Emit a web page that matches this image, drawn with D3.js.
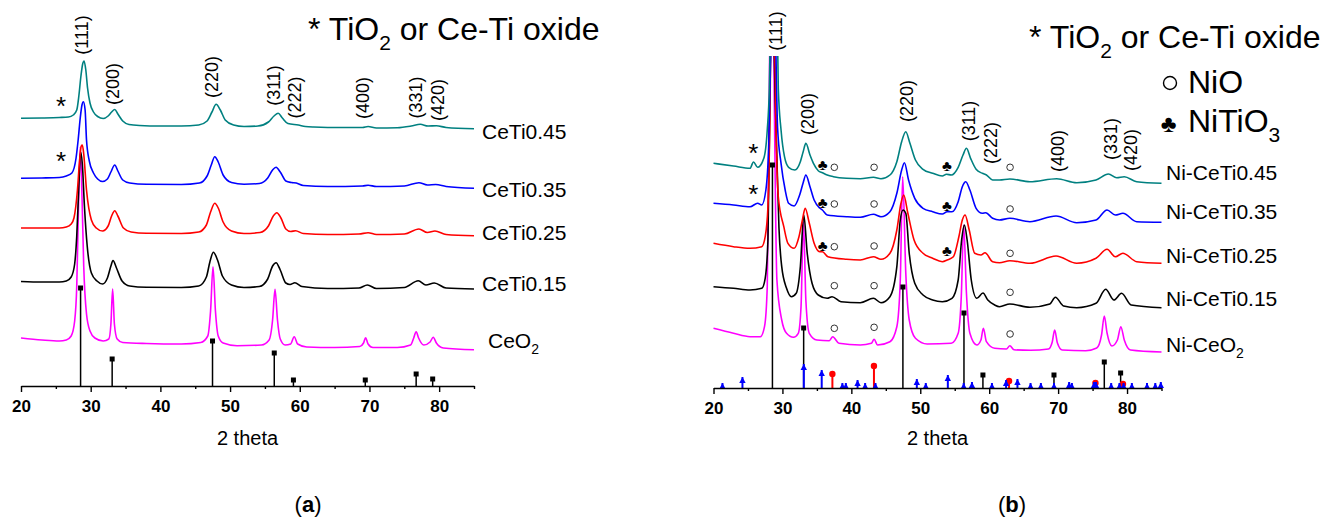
<!DOCTYPE html>
<html>
<head>
<meta charset="utf-8">
<script src="https://cdnjs.cloudflare.com/ajax/libs/d3/7.8.5/d3.min.js"></script>
<style>
  body { margin: 0; background: #fff; }
  text { font-family: Arial, "Liberation Sans", sans-serif; }
</style>
</head>
<body>
<div id="chart"></div>
<script>
// XRD patterns, 2 theta (deg) vs intensity (a.u.), panel (a) ceria-titania supports, panel (b) Ni catalysts

var majorTicks = [20, 30, 40, 50, 60, 70, 80];
var minorTicks = [25, 35, 45, 55, 65, 75, 85];
var hklNames = ["(111)", "(200)", "(220)", "(311)", "(222)", "(400)", "(331)", "(420)"];
var leftHklTheta = [28.75, 33.06, 47.4, 56.3, 59.3, 69.07, 76.67, 79.83];
var rightHklTheta = [28.93, 33.6, 47.98, 56.98, 60.13, 69.9, 77.55, 80.45];

var leftNames = ["CeO2", "CeTi0.15", "CeTi0.25", "CeTi0.35", "CeTi0.45"];
var rightNames = ["Ni-CeO2", "Ni-CeTi0.15", "Ni-CeTi0.25", "Ni-CeTi0.35", "Ni-CeTi0.45"];

// reference patterns [2theta, intensity]
var ceo2Sticks = [[28.55,98],[33.08,27],[47.48,45],[56.34,33],[59.09,6],[69.4,6],[76.7,12],[79.07,7]];
var ceo2SticksB = [[28.55,223],[33.08,60],[47.48,101],[56.34,75],[59.09,13],[69.4,13],[76.7,26],[79.07,15]];
var nioSticks = [[37.25,14],[43.28,22],[62.88,7],[75.42,5],[79.41,4]];
var nitio3Sticks = [[21.3,5],[24.2,11],[33.1,24],[35.7,18],[38.7,5],[39.2,5],[40.9,8],[42.0,5],[43.5,5],
  [49.5,9],[50.8,5],[54.0,13],[56.3,5],[57.5,6],[60.4,5],[62.45,8],[64.1,9],[66.0,5],[67.5,5],[69.4,5],
  [71.6,6],[72.0,5],[75.2,6],[75.5,6],[77.7,5],[78.9,5],[79.5,5],[80.7,5],[82.9,5],[84.1,5],[84.9,6]];

// phase marks in panel (b)
var asteriskTheta = 25.78;
var nitio3Marks = [35.85, 53.85];
var nioMarks = [37.53, 43.3, 63.03];

// panel (a) patterns
var ceo2 = [[20,48],[23,46],[25.5,45],[26.5,46],[27.2,50],[27.7,65],[28.0,100],[28.25,180],[28.5,239],[28.75,190],
  [29.0,120],[29.4,72],[29.9,55],[30.6,48],[31.8,45],[32.6,47],[32.9,62],[33.15,97],[33.4,62],[33.8,47],[34.6,43.5],
  [38,42.5],[43,42],[45.8,43.5],[46.8,50],[47.2,75],[47.55,119.3],[47.9,75],[48.3,50],[49.0,43],[51,40.3],[54.5,41],
  [55.6,46],[56.1,66],[56.45,96.7],[56.8,66],[57.2,47],[57.9,41],[58.7,42],[59.2,49.3],[59.7,42],[61,39],[65,38.5],
  [68.6,39.5],[69.15,43],[69.45,48.3],[69.8,42],[70.5,38.5],[74,38.5],[75.9,41],[76.35,48],[76.7,54.3],[77.05,48],
  [77.8,41],[78.7,44],[79.15,48.7],[79.6,43],[80.6,38],[85,36.3]];
var ceti015 = [[20,104.5],[23,104],[25.5,104],[26.5,105],[27.2,109],[27.7,122],[28.0,150],[28.3,200],[28.55,234],
  [28.8,222],[29.1,180],[29.5,140],[30.1,113],[30.9,105],[31.7,102],[32.4,108],[32.9,120],[33.2,125.5],[33.7,118],
  [34.5,105],[35.6,100],[38,98.7],[43,98.5],[45.5,100],[46.6,109],[47.1,124],[47.6,133.7],[48.2,126],[48.9,110],
  [50.2,101],[52,98.5],[54.2,99.5],[55.4,107],[56.1,120],[56.6,123.3],[57.2,116],[58.0,103],[58.6,101.5],[59.3,103.3],
  [60.3,99.5],[64,97.5],[68.5,98],[69.7,101],[71,97.5],[75,98.5],[77.0,105.3],[78.1,101],[79.3,103],[81,98],[85,97]];
var ceti025 = [[20,158],[23,158],[25.5,158],[26.5,159],[27.2,162],[27.6,168],[28.1,196],[28.4,225],[28.65,240],
  [28.8,241],[29.0,232],[29.4,196],[30.1,166],[30.8,158],[31.7,155],[32.5,160],[33.0,170],[33.45,175.3],[33.9,170],
  [34.7,158],[35.8,154],[38,152.7],[43,152.5],[45.5,154],[46.6,161],[47.2,174],[47.8,182.7],[48.3,178],[49.0,164],
  [50.2,155],[52,152.5],[54.3,153.5],[55.5,160],[56.2,170],[56.7,173.3],[57.3,168],[58.0,157],[58.7,154.5],
  [59.4,155.3],[60.5,152.5],[64,151.5],[68.5,152],[69.8,153.3],[71,151.5],[75,152],[77.1,157],[78.3,153.5],
  [79.4,155],[81,151.5],[85,150.3]];
var ceti035 = [[20,207.7],[23,208],[25.5,208.5],[26.5,210],[27.3,213],[27.9,228],[28.2,246],[28.5,268],[28.75,281],
  [28.95,284.3],[29.2,276],[29.4,246],[29.8,225],[30.4,213],[31.0,207],[31.7,204.5],[32.4,207],[32.9,214],[33.45,221],
  [33.9,215],[34.6,206],[35.6,203],[38,201.7],[43,201.5],[45.6,203],[46.7,210],[47.3,221],[47.8,229.3],[48.3,224],
  [49.0,211],[50.2,203.5],[52,201.7],[54.2,202.5],[55.4,208],[56.1,216],[56.6,218.7],[57.2,214],[58.0,205],
  [58.8,203.5],[59.5,203],[60.5,200.5],[64,199.5],[69,200],[69.8,200.7],[71,199.5],[75,200],[77.1,203.3],[78.3,201],
  [79.5,201.5],[81,199.5],[85,197.7]];
var ceti045 = [[20,267.7],[23,268],[25.5,268.5],[26.8,269],[27.5,271],[28.0,276],[28.3,290],[28.6,310],[28.85,322],
  [29.05,325],[29.3,316],[29.55,298],[29.9,283],[30.4,274],[31.0,269.5],[31.8,267.5],[32.5,270],[33.0,274],
  [33.45,276.5],[33.9,272],[34.6,265],[35.5,261.5],[37,260.5],[40,260],[43,260],[45.5,261],[46.7,265],[47.4,274],
  [48.0,281.7],[48.6,276],[49.3,266],[50.5,261],[52,259.5],[54,260],[55.5,264],[56.3,270],[56.9,272.7],[57.5,268],
  [58.3,262.5],[59.8,261],[60.8,259.5],[62,259],[66,258.5],[69,258.5],[69.8,259.5],[71,258],[74,258.3],[76,260],
  [77.3,261.7],[78.4,260],[79.6,260.3],[81,258.5],[85,257.3]];

// panel (b) patterns
var niCeo2 = [[20,59.7],[22.9,54.7],[25.3,51.3],[26.8,51.3],[27.4,61.3],[27.8,101.3],[28.1,300],[28.45,540],[28.8,300],
  [29.2,108],[29.9,68],[30.6,54.7],[31.6,50.7],[32.3,54.7],[32.7,81.3],[33.05,166.3],[33.4,88],[33.9,54.7],[35.0,48],
  [36.8,47.3],[37.3,51.3],[38.2,44.7],[41.3,43],[42.9,44.7],[43.3,48.7],[43.8,43],[45.6,46.3],[46.6,61.3],[47.1,108],
  [47.45,211.3],[47.9,114.7],[48.4,68],[49.3,49.7],[51.0,44],[54.5,44.7],[55.5,54.7],[55.95,91.3],[56.3,163],
  [56.7,94.7],[57.2,54.7],[58.2,43],[58.8,48],[59.15,59.7],[59.6,46.3],[60.8,39.7],[62.5,39],[63.0,42.3],[63.6,38.3],
  [66,37.7],[68.6,39],[69.15,46],[69.5,58],[69.9,45],[70.6,38],[74,37.3],[75.6,40],[76.3,53],[76.7,72],[77.1,55],
  [77.8,42],[78.6,48],[79.1,61.3],[79.6,48],[80.5,38],[85,36]];
var niCeti015 = [[20,101.3],[22.9,99.7],[25.3,98],[27.0,99.7],[27.5,109.7],[27.9,148],[28.2,300],[28.5,520],
  [28.8,340],[29.2,230],[29.5,160],[29.9,121.3],[30.6,99.7],[31.3,91.3],[32.0,94.7],[32.6,121.3],[33.1,173],
  [33.6,134.7],[34.3,104.7],[35.2,93],[36.5,89.7],[37.2,91.3],[38.5,86.3],[41.3,85.3],[43.2,89.7],[44.3,85.3],
  [45.6,91.3],[46.6,121.3],[47.1,168],[47.5,178],[47.9,174.7],[48.4,134.7],[49.2,104.7],[50.4,93],[51.8,88],
  [53.2,86.3],[54.6,89.7],[55.5,108],[56.0,148],[56.4,163],[56.8,148],[57.4,108],[58.2,89.7],[59.1,95],[59.8,88],
  [60.8,83],[61.5,81.3],[63.0,84],[65.9,80.7],[68.8,84],[69.6,90.7],[70.8,82],[72.7,80.3],[75.5,84.7],[76.9,98.7],
  [78.1,88],[79.2,94.7],[80.6,83],[85,80.3]];
var niCeti025 = [[20,144.7],[22.9,141.3],[25.3,139.7],[27.0,141.3],[27.5,151.3],[27.9,181.3],[28.2,280],[28.55,520],
  [28.85,360],[29.1,250],[29.4,191.3],[30.2,161.3],[30.8,144.7],[31.7,139.7],[32.4,151.3],[32.9,168],[33.3,179.7],
  [33.9,164.7],[34.6,144.7],[35.4,136.3],[35.8,136.3],[36.6,131.3],[39.3,128.7],[41.3,128],[43.2,131.3],[44.3,128.7],
  [45.6,134.7],[46.6,158],[47.2,184.7],[47.6,193],[48.2,174.7],[49.1,148],[50.4,134.7],[51.8,129.7],[53.2,126.3],
  [53.9,128],[54.8,131.3],[55.6,151.3],[56.1,168],[56.5,173],[57.1,158],[57.9,134.7],[58.8,133],[59.4,135.3],
  [60.5,126.3],[61.5,125.3],[63.0,127.3],[65.9,124.7],[69.7,132],[72.7,124.7],[75.5,129.7],[77.1,138.7],[78.3,131.3],
  [79.4,134.7],[81.4,126.3],[85,124.7]];
var niCeti035 = [[20,184.7],[22.9,183],[25.3,181.3],[26.4,184.7],[27.0,183],[27.6,198],[28.0,241],[28.3,330],
  [28.65,520],[28.95,380],[29.3,260],[29.8,224.7],[30.4,198],[30.9,184.7],[31.7,182],[32.5,193],[33.0,205],[33.4,213],
  [34.0,201.3],[34.6,188],[35.4,180],[35.8,178],[36.5,173],[39.3,171.3],[41.3,170.7],[43.2,173.7],[44.3,171.3],
  [45.6,176.3],[46.6,194.7],[47.3,218],[47.7,225.3],[48.3,208],[49.2,189.7],[50.4,179.7],[51.8,176.3],[53.2,174],
  [53.9,176.3],[54.6,176.3],[55.5,186.3],[56.1,201.3],[56.6,206.3],[57.2,198],[58.1,179.7],[59.0,174.7],[59.5,175.3],
  [60.5,169.7],[61.5,168],[63.0,169.7],[65.9,166.3],[69.7,172],[72.7,165.3],[75.5,168],[77.1,178],[78.3,173],
  [79.4,174.7],[81.4,166.3],[85,165.7]];
var niCeti045 = [[20,224.7],[22.9,222],[25.3,219.7],[25.8,226],[26.4,220.7],[27.3,229.7],[27.8,258],[28.1,300],
  [28.4,420],[28.8,540],[29.15,420],[29.4,300],[29.8,258],[30.3,231.3],[30.9,220.7],[31.8,218],[32.6,226.3],[33.0,236],
  [33.4,244.7],[34.0,233],[34.5,224.7],[35.2,217.3],[35.8,215.3],[36.5,213],[37.4,211.3],[39.3,209.7],[41.3,209.3],
  [43.2,210.7],[44.3,209.3],[45.6,213],[46.6,226.3],[47.3,246.3],[47.9,256.3],[48.5,244.7],[49.3,228],[50.4,218.7],
  [51.8,214.7],[53.2,212],[53.8,213.7],[54.5,213],[55.5,220.7],[56.2,233],[56.7,239.7],[57.3,229.7],[58.1,218.7],
  [59.0,214.7],[59.6,213],[60.5,208],[61.5,208],[63.0,209],[65.9,206.3],[69.8,209.3],[72.7,205.3],[75.5,208],
  [77.3,214],[78.5,210.3],[79.6,211.3],[81.4,206.3],[85,204.7]];

var colors = ["#ff00ff", "#000000", "#ff0000", "#0000ff", "#008080"];

var svg = d3.select("#chart").append("svg")
  .attr("width", 1325)
  .attr("height", 520);

function subText(sel, main, sub, after, subSize, shift) {
  sel.append("tspan").text(main);
  sel.append("tspan").attr("font-size", subSize).attr("dy", shift).text(sub);
  if (after) sel.append("tspan").attr("dy", -shift).text(after);
}

function drawPanel(p) {
  var x = d3.scaleLinear().domain([20, 85]).range([p.left, p.right]);
  var y = d3.scaleLinear().domain([0, p.axisY]).range([p.axisY, 0]);
  var g = svg.append("g");

  // plot frame clip (the strongest peaks run off the top)
  g.append("clipPath").attr("id", "clip-" + p.cap)
    .append("rect")
    .attr("x", p.left - 2).attr("y", p.top)
    .attr("width", p.right - p.left + 4).attr("height", p.axisY - p.top + 2);

  var line = d3.line()
    .x(d => x(d[0]))
    .y(d => y(d[1]))
    .curve(d3.curveMonotoneX);

  // patterns
  var pg = g.append("g").attr("clip-path", "url(#clip-" + p.cap + ")");
  p.series.forEach((s, i) => {
    pg.append("path")
      .datum(s)
      .attr("d", line)
      .attr("fill", "none")
      .attr("stroke", colors[i])
      .attr("stroke-width", 1.6)
      .attr("stroke-linejoin", "round");
  });

  // reference sticks
  p.sticks.forEach(st => {
    var sg = g.append("g");
    sg.selectAll("line").data(st.data).enter().append("line")
      .attr("x1", d => x(d[0])).attr("x2", d => x(d[0]))
      .attr("y1", y(0)).attr("y2", d => y(d[1]))
      .attr("stroke", st.color).attr("stroke-width", st.width);
    if (st.marker == "square") {
      sg.selectAll("rect").data(st.data).enter().append("rect")
        .attr("x", d => x(d[0]) - 2.5).attr("y", d => y(d[1]) - 2.5)
        .attr("width", 5).attr("height", 5).attr("fill", st.color);
    } else if (st.marker == "circle") {
      sg.selectAll("circle").data(st.data).enter().append("circle")
        .attr("cx", d => x(d[0])).attr("cy", d => y(d[1]))
        .attr("r", 3.2).attr("fill", st.color);
    } else {
      sg.selectAll("path").data(st.data).enter().append("path")
        .attr("d", d => {
          var cx = x(d[0]), ty = y(d[1]);
          return "M" + (cx - 3.2) + "," + (ty + 6) + "L" + cx + "," + ty + "L" + (cx + 3.2) + "," + (ty + 6) + "Z";
        })
        .attr("fill", st.color);
    }
  });

  // axis
  var ax = g.append("g")
    .attr("transform", "translate(0," + p.axisY + ")")
    .call(d3.axisBottom(x).tickValues(majorTicks).tickSize(6).tickSizeOuter(0).tickPadding(8).tickFormat(d3.format("d")));
  ax.select(".domain").attr("stroke-width", 1.6);
  ax.selectAll(".tick line").attr("stroke-width", 1.4);
  ax.selectAll(".tick text")
    .attr("font-size", 17).attr("font-weight", "bold")
    .attr("font-family", "Arial, 'Liberation Sans', sans-serif");
  var minor = g.append("g")
    .attr("transform", "translate(0," + p.axisY + ")")
    .call(d3.axisBottom(x).tickValues(minorTicks).tickSize(3).tickFormat(""));
  minor.select(".domain").remove();
  minor.selectAll(".tick line").attr("stroke-width", 1.4);

  g.append("text")
    .attr("x", (p.left + p.right) / 2).attr("y", 445)
    .attr("text-anchor", "middle").attr("font-size", 20)
    .text("2 theta");

  // hkl labels
  hklNames.forEach((h, i) => {
    g.append("text")
      .attr("transform", "translate(" + x(p.hklTheta[i]) + "," + p.hklY[i] + ") rotate(-90)")
      .attr("text-anchor", "middle").attr("dy", "0.36em")
      .attr("font-size", 18)
      .text(h);
  });

  // sample labels
  p.names.forEach((n, i) => {
    var t = g.append("text")
      .attr("x", p.labelX[i]).attr("y", p.labelY[i])
      .attr("font-size", 21);
    if (/O2$/.test(n)) subText(t, n.slice(0, -1), "2", null, 14, 6);
    else t.text(n);
  });

  var cap = g.append("text")
    .attr("x", p.capX).attr("y", 512)
    .attr("text-anchor", "middle")
    .attr("font-family", "'Liberation Serif', 'DejaVu Serif', serif")
    .attr("font-size", 22);
  cap.append("tspan").text("(");
  cap.append("tspan").attr("font-weight", "bold").text(p.cap);
  cap.append("tspan").text(")");

  return { x: x, y: y, g: g };
}

var left = drawPanel({
  left: 21, right: 474, axisY: 386, top: 0,
  series: [ceo2, ceti015, ceti025, ceti035, ceti045],
  sticks: [{ data: ceo2Sticks, color: "#000", width: 1.5, marker: "square" }],
  hklTheta: leftHklTheta, hklY: [35, 84, 77, 85.5, 97.5, 98, 97.5, 100],
  names: leftNames, labelX: [488, 482, 482, 482, 482], labelY: [347.5, 290.5, 239.5, 196.5, 138.5],
  capX: 308, cap: "a"
});

var right = drawPanel({
  left: 713.5, right: 1161.5, axisY: 388, top: 56,
  series: [niCeo2, niCeti015, niCeti025, niCeti035, niCeti045],
  sticks: [
    { data: ceo2SticksB, color: "#000", width: 1.5, marker: "square" },
    { data: nioSticks, color: "#ff0000", width: 2, marker: "circle" },
    { data: nitio3Sticks, color: "#0000ff", width: 2, marker: "triangle" }
  ],
  hklTheta: rightHklTheta, hklY: [31, 114, 101, 121, 143, 151, 139, 150],
  names: rightNames, labelX: [1166, 1166, 1166, 1166, 1166], labelY: [351.5, 305.7, 262.7, 219.3, 180],
  capX: 1012, cap: "b"
});

// asterisks on the two Ti-rich patterns
function star(gr, cx, cy) {
  gr.append("text").attr("x", cx).attr("y", cy + 15).attr("text-anchor", "middle")
    .attr("font-size", 26).text("*");
}
star(left.g, left.x(25.74), 100);
star(left.g, left.x(25.74), 155);
star(right.g, right.x(asteriskTheta), 146.7);
star(right.g, right.x(asteriskTheta), 188.3);

// phase marks in (b): rows teal, blue, red, black, magenta
var clubRowsY = [[164, 165.7], [202.3, 205.7], [245.7, 250.7]];
var nioRowsY = [[167.3, 167.3, 167.3], [204, 204, 209], [246.7, 246, 253.3], [285.7, 285.7, 292.3], [328.3, 327.3, 334]];
clubRowsY.forEach(r => {
  nitio3Marks.forEach((t, j) => {
    right.g.append("text").attr("x", right.x(t)).attr("y", r[j] + 5.5)
      .attr("text-anchor", "middle").attr("font-size", 15)
      .attr("font-family", "'DejaVu Sans', sans-serif").text("\u2663");
  });
});
nioRowsY.forEach(r => {
  nioMarks.forEach((t, j) => {
    right.g.append("circle").attr("cx", right.x(t)).attr("cy", r[j]).attr("r", 3.3)
      .attr("fill", "none").attr("stroke", "#333").attr("stroke-width", 1);
  });
});

// legends
var lg1 = svg.append("text").attr("x", 308).attr("y", 40).attr("font-size", 32);
subText(lg1, "* TiO", "2", " or Ce-Ti oxide", 21, 10);
var lg2 = svg.append("text").attr("x", 1029).attr("y", 48).attr("font-size", 32);
subText(lg2, "* TiO", "2", " or Ce-Ti oxide", 21, 10);
svg.append("circle").attr("cx", 1170).attr("cy", 83).attr("r", 6.5)
  .attr("fill", "none").attr("stroke", "#000").attr("stroke-width", 1.4);
svg.append("text").attr("x", 1188).attr("y", 93).attr("font-size", 32).text("NiO");
svg.append("text").attr("x", 1168.5).attr("y", 132).attr("text-anchor", "middle")
  .attr("font-size", 24).attr("font-family", "'DejaVu Sans', sans-serif").text("\u2663");
var lg3 = svg.append("text").attr("x", 1188).attr("y", 132).attr("font-size", 32);
subText(lg3, "NiTiO", "3", null, 21, 10);
</script>
</body>
</html>
